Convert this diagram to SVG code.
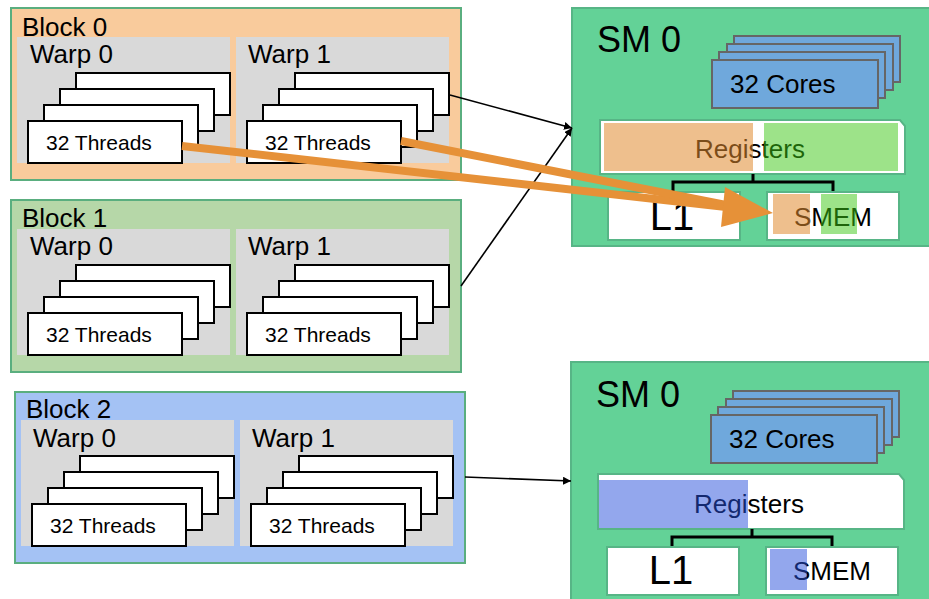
<svg xmlns="http://www.w3.org/2000/svg" width="929" height="599" viewBox="0 0 929 599">
<defs>
<style>
text{font-family:"Liberation Sans",Arial,sans-serif;fill:#000}
.blk{stroke:#5aae7f;stroke-width:2}
.warp{fill:#d9d9d9}
.thr{fill:#fff;stroke:#000;stroke-width:2}
.sm{fill:#63d297;stroke:#57b586;stroke-width:2}
.core{fill:#6fa8dc;stroke:#666;stroke-width:2}
.mem{fill:#fff;stroke:#57b586;stroke-width:2}
.lbl{font-size:26px}
.tl{font-size:21px}
.big{font-size:36px}
.l1{font-size:40px}
.conn{stroke:#000;stroke-width:1.6;fill:none}
.hot{stroke:#e69138;stroke-width:8;fill:none}
.tintO{fill:#e08a30;opacity:0.55}
.tintG{fill:#3cc814;opacity:0.5}
.tintB{fill:#2850dc;opacity:0.5}
</style>
<marker id="ah" viewBox="0 0 10 10" refX="10" refY="5" markerWidth="8" markerHeight="8" markerUnits="userSpaceOnUse" orient="auto">
<path d="M0,0 L10,5 L0,10 z" fill="#000"/>
</marker>
<g id="warpStack">
<rect class="warp" x="0" y="0" width="213" height="126"/>
<rect class="thr" x="59" y="36" width="154" height="42"/>
<rect class="thr" x="43" y="52" width="154" height="42"/>
<rect class="thr" x="27" y="68" width="154" height="42"/>
<rect class="thr" x="11" y="84" width="154" height="42"/>
<text class="tl" x="29" y="113">32 Threads</text>
</g>
<g id="coreStack">
<rect class="core" x="22" y="0" width="166" height="46"/>
<rect class="core" x="15" y="8" width="166" height="46"/>
<rect class="core" x="7" y="16" width="166" height="46"/>
<rect class="core" x="0" y="24" width="166" height="48"/>
<text class="lbl" x="18" y="57">32 Cores</text>
</g>
</defs>

<!-- Thread blocks -->
<g id="block0">
<rect class="blk" x="11" y="8" width="450" height="172" fill="#f9cb9c"/>
<text class="lbl" x="22" y="36">Block 0</text>
<use href="#warpStack" x="17" y="37"/>
<use href="#warpStack" x="236" y="37"/>
<text class="lbl" x="30" y="63">Warp 0</text>
<text class="lbl" x="248" y="63">Warp 1</text>
</g>
<g id="block1">
<rect class="blk" x="11" y="200" width="450" height="172" fill="#b6d7a8"/>
<text class="lbl" x="22" y="227">Block 1</text>
<use href="#warpStack" x="17" y="229"/>
<use href="#warpStack" x="236" y="229"/>
<text class="lbl" x="30" y="255">Warp 0</text>
<text class="lbl" x="248" y="255">Warp 1</text>
</g>
<g id="block2">
<rect class="blk" x="15" y="392" width="450" height="171" fill="#a4c2f4"/>
<text class="lbl" x="26" y="418">Block 2</text>
<use href="#warpStack" x="21" y="420"/>
<use href="#warpStack" x="240" y="420"/>
<text class="lbl" x="33" y="447">Warp 0</text>
<text class="lbl" x="252" y="447">Warp 1</text>
</g>

<!-- Streaming multiprocessors -->
<g id="sm-top">
<rect class="sm" x="572" y="8" width="370" height="238"/>
<text class="big" x="597" y="52">SM 0</text>
<use href="#coreStack" x="712" y="36"/>
<path class="mem" d="M600,120 H900 L905,126 V174 H600 Z"/>
<text class="lbl" x="750" y="158" text-anchor="middle">Registers</text>
<rect class="tintO" x="604" y="123" width="149" height="48"/>
<rect class="tintG" x="764" y="123" width="134" height="48"/>
<path d="M753,174 V182 M673,192 V182 H833 V192" fill="none" stroke="#000" stroke-width="3"/>
<rect class="mem" x="608" y="192" width="132" height="48"/>
<text class="l1" x="672" y="230" text-anchor="middle">L1</text>
<rect class="mem" x="767" y="192" width="132" height="48"/>
<text class="lbl" x="833" y="226" text-anchor="middle">SMEM</text>
<rect class="tintO" x="773" y="194" width="37" height="40"/>
<rect class="tintG" x="821" y="194" width="36" height="40"/>
</g>
<g id="sm-bottom">
<rect class="sm" x="571" y="362" width="370" height="250"/>
<text class="big" x="596" y="407">SM 0</text>
<use href="#coreStack" x="711" y="391"/>
<path class="mem" d="M598,474 H899 L904,480 V529 H598 Z"/>
<text class="lbl" x="749" y="513" text-anchor="middle">Registers</text>
<rect class="tintB" x="599" y="480" width="149" height="48"/>
<path d="M752,529 V537 M672,547 V537 H832 V547" fill="none" stroke="#000" stroke-width="3"/>
<rect class="mem" x="607" y="547" width="132" height="48"/>
<text class="l1" x="671" y="584" text-anchor="middle">L1</text>
<rect class="mem" x="766" y="547" width="132" height="48"/>
<text class="lbl" x="832" y="580" text-anchor="middle">SMEM</text>
<rect class="tintB" x="770" y="549" width="37" height="41"/>
</g>

<!-- Connectors -->
<g id="connectors">
<line class="conn" x1="450" y1="95" x2="572" y2="128" marker-end="url(#ah)"/>
<line class="conn" x1="461" y1="286" x2="572" y2="128" marker-end="url(#ah)"/>
<line class="conn" x1="465" y1="477" x2="571" y2="481" marker-end="url(#ah)"/>
<line class="hot" x1="182" y1="146" x2="726" y2="207"/>
<line class="hot" x1="401" y1="141" x2="726" y2="205"/>
<polygon points="725,187 773,213 721,227" fill="#e69138"/>
</g>
</svg>
